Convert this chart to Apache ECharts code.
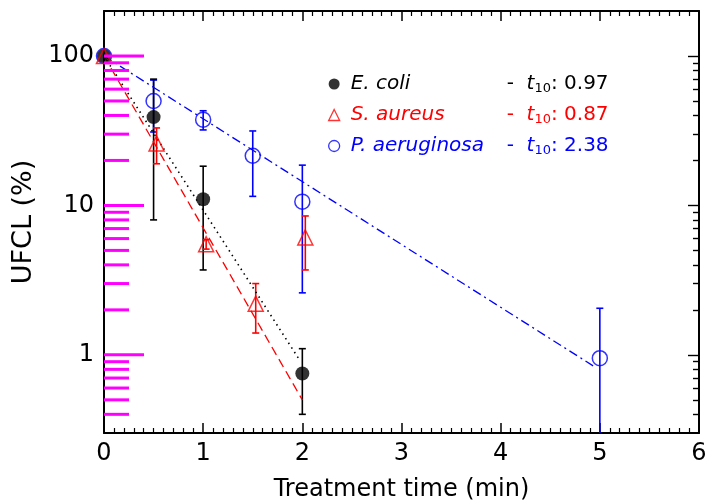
<!DOCTYPE html>
<html>
<head>
<meta charset="utf-8">
<title>UFCL</title>
<script src="https://cdn.jsdelivr.net/npm/echarts@6.0.0/dist/echarts.min.js"></script>
<style>
    html, body { margin: 0; padding: 0; background: #fff; }
    #main { width: 707px; height: 504px; }
</style>
</head>
<body>
<div id="main"></div>
<script>
// values
var names = ['E. coli', 'S. aureus', 'P. aeruginosa'];
var t10 = ['0.97', '0.87', '2.38'];

var ecoliX = [0, 0.5, 1, 2];
var ecoliY = [100, 39, 11, 0.75];
var ecoliErr = [0, 31, 7.3, 0.35];

var aureusX = [0, 0.53, 1.03, 1.53, 2.03];
var aureusY = [100, 26, 5.5, 2.2, 6.1];
var aureusErr = [0, 7, 0.4, 0.8, 2.4];

var aerugX = [0, 0.5, 1, 1.5, 2, 5];
var aerugY = [100, 50, 37.5, 21.5, 10.6, 0.95];
var aerugErr = [0, 19, 5.5, 10, 8, 1.1];

// fitted decay lines, end points
var ecoliFit = [[0, 100], [1.96, 0.95]];
var aureusFit = [[0, 100], [2, 0.5]];
var aerugFit = [[0, 100], [4.95, 0.83]];

var yLabels = [1, 10, 100];
var yMinor = [0.4, 0.5, 0.6, 0.7, 0.8, 0.9, 2, 3, 4, 5, 6, 7, 8, 9,
              20, 30, 40, 50, 60, 70, 80, 90];
var xMin = 0, xMax = 6, yMin = 0.3, yMax = 200;

var colors = ['#000000', '#ff0000', '#0000ff'];
var font = 'DejaVu Sans';

function pts(xs, ys) {
    return xs.map(function (x, i) { return [x, ys[i]]; });
}
function errRows(xs, ys, es) {
    return xs.map(function (x, i) { return [x, ys[i], es[i]]; });
}

// vertical error bar with caps
function errorBar(color) {
    return function (params, api) {
        var x = api.value(0), y = api.value(1), e = api.value(2);
        if (!e) return null;
        var lo = Math.max(y - e, yMin);
        var top = api.coord([x, y + e]);
        var bot = api.coord([x, lo]);
        var w = 3.5;
        var st = { stroke: color, lineWidth: 1.6 };
        var kids = [
            { type: 'line', shape: { x1: top[0], y1: top[1], x2: bot[0], y2: bot[1] }, style: st },
            { type: 'line', shape: { x1: top[0] - w, y1: top[1], x2: top[0] + w, y2: top[1] }, style: st }
        ];
        if (y - e > yMin) {
            kids.push({ type: 'line', shape: { x1: bot[0] - w, y1: bot[1], x2: bot[0] + w, y2: bot[1] }, style: st });
        }
        return { type: 'group', children: kids };
    };
}

// left frame ticks (log spaced), pointing inward
function leftTicks(params, api) {
    var v = api.value(1), len = api.value(2);
    var p = api.coord([xMin, v]);
    return {
        type: 'line',
        shape: { x1: p[0], y1: p[1], x2: p[0] + len, y2: p[1] },
        style: { stroke: '#ff00ff', lineWidth: 3 }
    };
}
var tickRows = yLabels.map(function (v) { return [xMin, v, 40]; })
    .concat(yMinor.map(function (v) { return [xMin, v, 25]; }));

var rich = {
    n: { fontStyle: 'italic', width: 156, padding: [0, 0, 0, 6], fontSize: 20, lineHeight: 22 },
    d: { fontSize: 20, lineHeight: 22 },
    t: { fontStyle: 'italic', fontSize: 20, lineHeight: 22 },
    s: { fontSize: 13, lineHeight: 12, verticalAlign: 'bottom' },
    v: { fontSize: 20, lineHeight: 22 }
};

var axisLine = { show: true, onZero: false, lineStyle: { color: '#000', width: 2 } };

var myChart = echarts.init(document.getElementById('main'));

var option = {
    animation: false,
    textStyle: { fontFamily: font },
    grid: { left: 104, right: 8, top: 11, bottom: 71, outerBoundsMode: 'none' },
    legend: {
        orient: 'vertical',
        left: 323,
        top: 69,
        itemGap: 10,
        itemWidth: 11,
        itemHeight: 11,
        selectedMode: false,
        textStyle: { fontFamily: font, fontSize: 20, rich: rich },
        formatter: function (name) {
            var i = names.indexOf(name);
            return '{n|' + name + '}{d|-  }{t|t}{s|10}{v|: ' + t10[i] + '}';
        },
        data: [
            { name: names[0], icon: 'circle', itemStyle: { color: colors[0], borderWidth: 0 },
              textStyle: { color: colors[0], rich: rich } },
            { name: names[1], icon: 'triangle', itemStyle: { color: 'rgba(0,0,0,0)', borderColor: colors[1], borderWidth: 1.3 },
              textStyle: { color: colors[1], rich: rich } },
            { name: names[2], icon: 'circle', itemStyle: { color: 'rgba(0,0,0,0)', borderColor: colors[2], borderWidth: 1.3 },
              textStyle: { color: colors[2], rich: rich } }
        ]
    },
    xAxis: [
        {
            type: 'value', min: xMin, max: xMax, interval: 1, position: 'bottom',
            axisLine: axisLine,
            axisTick: { inside: true, length: 10, lineStyle: { color: '#000', width: 1.5 } },
            minorTick: { show: true, splitNumber: 10, length: 5, lineStyle: { color: '#000', width: 1.2 } },
            axisLabel: { color: '#000', fontSize: 24, fontFamily: font, margin: 9 },
            splitLine: { show: false },
            name: 'Treatment time (min)', nameLocation: 'middle', nameGap: 45,
            nameTextStyle: { color: '#000', fontSize: 24, fontFamily: font }
        },
        {
            type: 'value', min: xMin, max: xMax, interval: 1, position: 'top',
            axisLine: axisLine,
            axisTick: { inside: true, length: 10, lineStyle: { color: '#000', width: 1.5 } },
            minorTick: { show: true, splitNumber: 10, length: 5, lineStyle: { color: '#000', width: 1.2 } },
            axisLabel: { show: false },
            splitLine: { show: false }
        }
    ],
    yAxis: [
        {
            type: 'log', min: yMin, max: yMax, position: 'left',
            axisLine: axisLine,
            axisTick: { show: false },
            axisLabel: { color: '#000', fontSize: 24, fontFamily: font, margin: 10, customValues: yLabels },
            splitLine: { show: false },
            name: 'UFCL (%)', nameLocation: 'middle', nameGap: 57,
            nameTextStyle: { color: '#000', fontSize: 27, fontFamily: font }
        },
        {
            type: 'log', min: yMin, max: yMax, position: 'right',
            axisLine: axisLine,
            axisTick: { inside: true, length: 11, customValues: yLabels, lineStyle: { color: '#000', width: 1.4 } },
            axisLabel: { show: false },
            splitLine: { show: false }
        },
        {
            type: 'log', min: yMin, max: yMax, position: 'right',
            axisLine: { show: false, onZero: false },
            axisTick: { inside: true, length: 6, customValues: yMinor, lineStyle: { color: '#000', width: 1.4 } },
            axisLabel: { show: false },
            splitLine: { show: false }
        }
    ],
    series: [
        { type: 'custom', name: 'ticksL', silent: true, renderItem: leftTicks, data: tickRows, z: 10 },

        { type: 'custom', name: 'errP', renderItem: errorBar(colors[2]), data: errRows(aerugX, aerugY, aerugErr), z: 2 },
        { type: 'custom', name: 'errE', renderItem: errorBar(colors[0]), data: errRows(ecoliX, ecoliY, ecoliErr), z: 2 },
        { type: 'custom', name: 'errS', renderItem: errorBar(colors[1]), data: errRows(aureusX, aureusY, aureusErr), z: 2 },

        { type: 'line', name: 'fitE', data: ecoliFit, showSymbol: false, symbol: 'none', z: 3,
          lineStyle: { color: colors[0], width: 1.6, type: [1.5, 4] } },
        { type: 'line', name: 'fitS', data: aureusFit, showSymbol: false, symbol: 'none', z: 3,
          lineStyle: { color: colors[1], width: 1.3, type: [9, 5] } },
        { type: 'line', name: 'fitP', data: aerugFit, showSymbol: false, symbol: 'none', z: 3,
          lineStyle: { color: colors[2], width: 1.3, type: [9, 4, 2, 4] } },

        { type: 'scatter', name: names[2], data: pts(aerugX, aerugY), symbol: 'circle', symbolSize: 15, z: 4,
          itemStyle: { color: 'rgba(0,0,0,0)', borderColor: colors[2], borderWidth: 1.5 } },
        { type: 'scatter', name: names[0], data: pts(ecoliX, ecoliY), symbol: 'circle', symbolSize: 14, z: 4,
          itemStyle: { color: colors[0] } },
        { type: 'scatter', name: names[1], data: pts(aureusX, aureusY), symbol: 'triangle', symbolSize: 15, z: 4,
          itemStyle: { color: 'rgba(0,0,0,0)', borderColor: colors[1], borderWidth: 1.5 } }
    ]
};
myChart.setOption(option);
</script>
</body>
</html>
